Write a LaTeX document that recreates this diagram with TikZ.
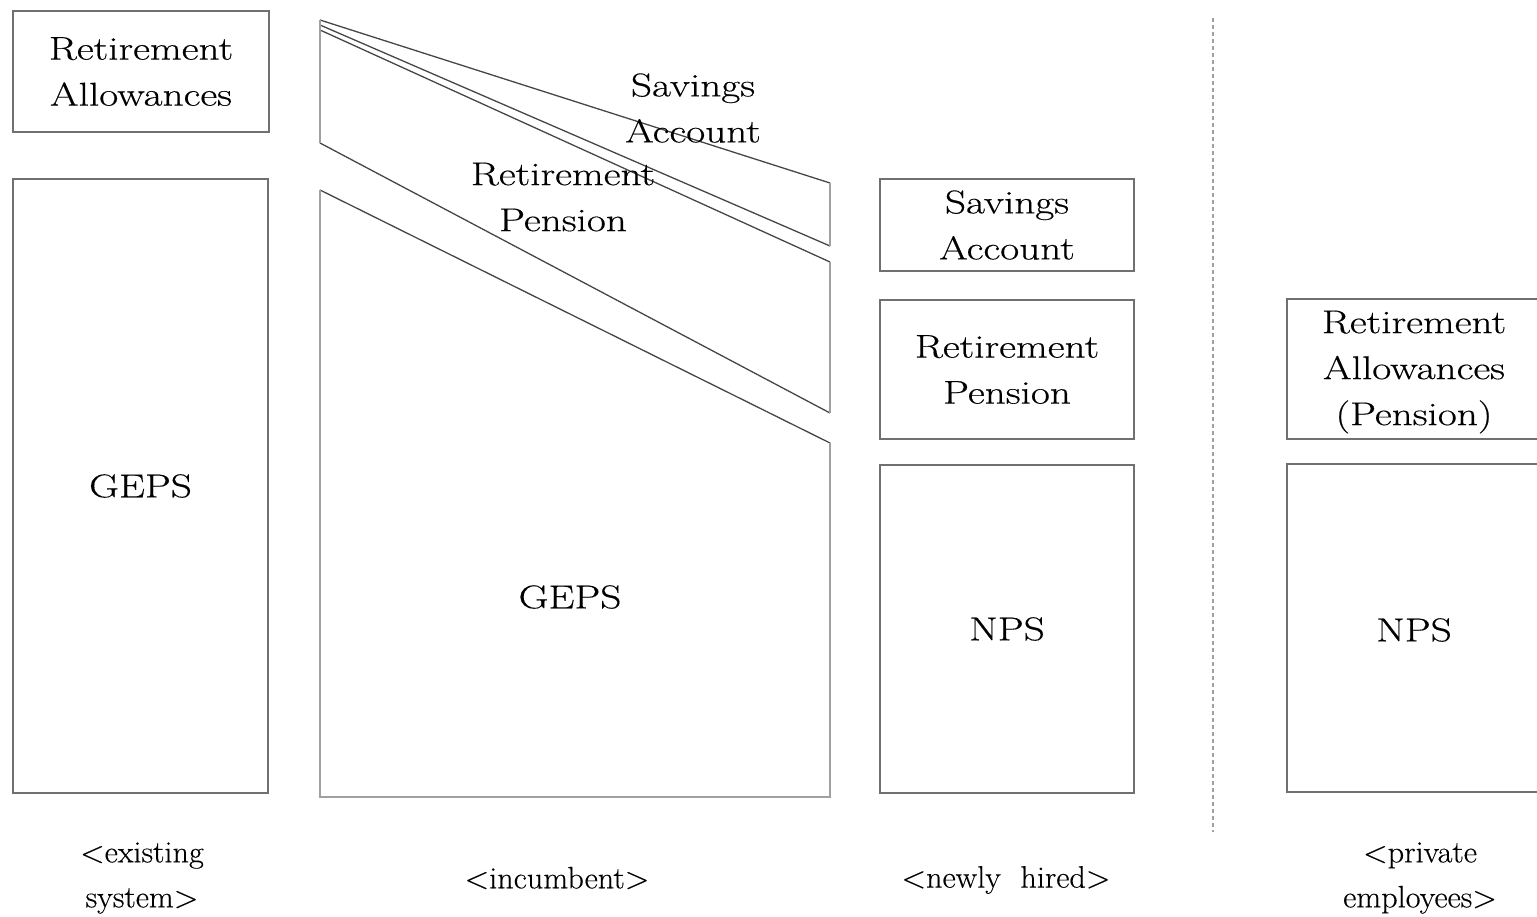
\documentclass[tikz,border=0pt]{standalone}
\usepackage{fontspec}
\setmainfont{Latin Modern Roman}[FakeStretch=1.25,FakeBold=0.4]
\newfontfamily\capfont{Latin Modern Roman}[FakeStretch=1.04,FakeBold=0.3]
\definecolor{boxgray}{RGB}{112,112,112}
\definecolor{slantgray}{RGB}{70,70,70}
\definecolor{lightgray2}{RGB}{160,160,160}
\begin{document}
\begin{tikzpicture}[x=1pt,y=-1pt,
  box/.style={draw=boxgray,line width=2pt,inner sep=0pt,anchor=north west,
    font=\fontsize{33}{46}\selectfont,align=center},
  slant/.style={draw=slantgray,line width=1.3pt},
  side/.style={draw=lightgray2,line width=2pt},
  lbl/.style={font=\fontsize{33}{46}\selectfont,align=center,inner sep=0pt},
  captxt/.style={font=\capfont\fontsize{31}{45}\selectfont,align=center,inner sep=0pt},
  sep/.style={draw=lightgray2,line width=1.5pt,dash pattern=on 4pt off 3pt}]
\useasboundingbox (0,0) rectangle (1537,917);
% existing system
\node[box,minimum width=256pt,minimum height=121pt] (ra) at (12,10) {Retirement\\Allowances};
\node[box,minimum width=255pt,minimum height=614pt] (geps1) at (12,178) {GEPS};
% incumbent
\coordinate (tl) at (320,20);
\coordinate (sa1) at (830,183);
\coordinate (sa2) at (830,246);
\coordinate (tl2) at (320,25);
\coordinate (tl3) at (320,30);
\coordinate (rp1) at (830,262);
\coordinate (rp2) at (830,413);
\coordinate (ml) at (320,143);
\coordinate (gl) at (320,190);
\coordinate (g1) at (830,443);
\coordinate (g2) at (830,797);
\coordinate (g3) at (320,797);
\draw[slant] (tl) -- (sa1);
\draw[slant] (tl2) -- (sa2);
\draw[slant] (tl3) -- (rp1);
\draw[slant] (ml) -- (rp2);
\draw[slant] (gl) -- (g1);
\draw[side] (sa1) -- (sa2);
\draw[side] (rp1) -- (rp2);
\draw[side] (tl) -- (ml);
\draw[side] (g1) -- (g2) -- (g3) -- (gl);
\node[lbl] (satext) at (693,108) {Savings\\Account};
\node[lbl] (rptext) at (563,197) {Retirement\\Pension};
\node[lbl] (geps2) at (570,597) {GEPS};
% newly hired
\node[box,minimum width=254pt,minimum height=92pt] (sa) at (879,178) {Savings\\Account};
\node[box,minimum width=254pt,minimum height=139pt] (rp) at (879,299) {Retirement\\Pension};
\node[box,minimum width=254pt,minimum height=328pt] (nps1) at (879,464) {NPS};
% separator
\coordinate (s1) at (1213,18);
\coordinate (s2) at (1213,832);
\draw[sep] (s1) -- (s2);
% private employees
\coordinate (p1) at (1540,299);
\coordinate (p2) at (1287,299);
\coordinate (p3) at (1287,439);
\coordinate (p4) at (1540,439);
\draw[box] (p1) -- (p2) -- (p3) -- (p4);
\node[lbl] (ratext) at (1414,372) {Retirement\\Allowances\\(Pension)};
\coordinate (n1) at (1540,464);
\coordinate (n2) at (1287,464);
\coordinate (n3) at (1287,792);
\coordinate (n4) at (1540,792);
\draw[box] (n1) -- (n2) -- (n3) -- (n4);
\node[lbl] (nps2) at (1414,630) {NPS};
% captions
\node[captxt] (c1) at (142,878) {\textless existing\\system\textgreater};
\node[captxt] (c2) at (557,878) {\textless incumbent\textgreater};
\node[captxt] (c3) at (1006,880) {\textless newly\ \ hired\textgreater};
\node[captxt] (c4) at (1420,878) {\textless private\\employees\textgreater};
\end{tikzpicture}
\end{document}
